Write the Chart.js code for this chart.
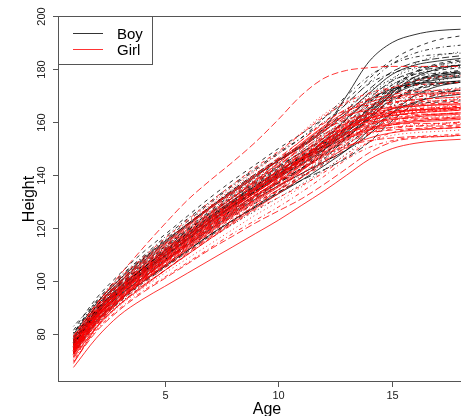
<!DOCTYPE html>
<html>
<head>
<meta charset="utf-8">
<script src="https://cdn.jsdelivr.net/npm/chart.js@4.4.1/dist/chart.umd.min.js"></script>
<style>
  html, body { margin: 0; padding: 0; background: #fff; overflow: hidden; }
  canvas { display: block; }
</style>
</head>
<body>
<canvas id="growth" width="476" height="416"></canvas>
<script>
const ages = [1, 2, 3, 4, 5, 6, 7, 8, 9, 10, 11, 12, 13, 14, 15, 16, 17, 18]

const seriesNames = ['Boy', 'Girl']
const xTicks = [5, 10, 15]
const yTicks = [80, 100, 120, 140, 160, 180, 200]

// one row per boy, heights in cm
const boyHeights = [
    [80, 91.5, 100.5, 108, 115, 121.5, 128, 134, 140, 145.5, 151, 157.5, 170, 183, 190, 193, 194.5, 195],
    [81.5, 93.5, 102.5, 110.5, 117.5, 124.5, 131.5, 138, 144, 150, 155.5, 161.5, 168.5, 176.5, 183.5, 188, 191, 192.5],
    [79.5, 91.5, 100.5, 108, 115, 121.5, 128, 134.5, 140.5, 146, 151, 155.5, 160, 167, 176, 182, 185, 186.5],
    [80.5, 92, 101, 108.5, 115.5, 122.5, 129.5, 136, 142, 148, 154, 161.5, 170, 177.5, 182, 184.5, 185.5, 186],
    [78.5, 90.5, 99.5, 107.5, 114.5, 121.5, 128, 134.5, 140.5, 146, 151.5, 157.5, 164.5, 172.5, 179, 182.5, 184, 185],
    [79, 90.5, 99.5, 107, 114, 121, 127.5, 133.5, 139.5, 145.5, 150.5, 156.5, 163.5, 171, 178, 181.5, 183, 184],
    [77.5, 89.5, 98.5, 106, 113, 119.5, 126, 132, 138, 143.5, 148.5, 153, 158, 165, 173, 179, 182, 183.5],
    [78, 90, 99, 106, 113, 119.5, 126, 132.5, 138.5, 144, 149.5, 155, 162, 170, 176.5, 180, 181.5, 182.5],
    [78.5, 90, 99, 106.5, 113, 120, 126.5, 133, 139, 145, 151, 158.5, 167, 174.5, 178.5, 180.5, 181, 181.5],
    [77, 89, 98, 105.5, 112, 119, 125.5, 131.5, 137.5, 143, 148.5, 154, 161, 169, 175.5, 179, 180.5, 181.5],
    [76.5, 88.5, 97.5, 104.5, 111.5, 118, 124.5, 130.5, 136, 141.5, 146.5, 151, 155.5, 162, 171, 177, 180, 181.5],
    [77.5, 89, 97.5, 104.5, 111.5, 118, 124.5, 130.5, 136.5, 142, 147, 152.5, 159.5, 167.5, 174, 178, 179.5, 180.5],
    [76.5, 88.5, 97.5, 105, 111.5, 118.5, 125, 131, 137, 143, 149, 156, 165, 172, 176, 178, 178.5, 179],
    [76, 88, 97, 104.5, 111, 117.5, 124, 130, 136, 141.5, 146.5, 152, 158.5, 166.5, 173, 177, 178.5, 179.5],
    [77, 88.5, 97, 104, 110.5, 117, 123.5, 129.5, 135, 140.5, 145.5, 150, 154.5, 161, 169.5, 175.5, 178, 179],
    [76.5, 88, 96.5, 103.5, 110.5, 117, 123.5, 129.5, 135, 140.5, 145.5, 151, 157.5, 165, 171.5, 175.5, 177.5, 178.5],
    [75.5, 87.5, 96.5, 103.5, 110, 116.5, 123, 129, 134.5, 140, 145, 150.5, 157, 164.5, 171, 175, 177, 178],
    [77, 88.5, 97, 104, 110.5, 117, 123.5, 129.5, 135.5, 141, 147, 154, 163, 170.5, 174.5, 176.5, 177, 177.5],
    [76, 87.5, 96, 103, 109.5, 116, 122.5, 128.5, 134, 139.5, 144, 148.5, 153, 159, 167, 173.5, 177, 178.5],
    [76.5, 87.5, 96, 103, 109.5, 116, 122.5, 128.5, 134, 139.5, 144.5, 150, 156.5, 164, 170.5, 174.5, 176.5, 177.5],
    [75, 86.5, 95.5, 102.5, 109, 115.5, 122, 128, 133.5, 139, 144, 149.5, 156, 163.5, 170, 174, 176, 177],
    [76, 87.5, 96, 103, 109.5, 116, 122.5, 128.5, 134, 139.5, 145.5, 152.5, 161, 168, 172, 174, 174.5, 175],
    [75.5, 87, 95.5, 102.5, 108.5, 115, 121, 127, 132.5, 138, 142.5, 147, 151.5, 157.5, 165.5, 172, 175.5, 177],
    [76, 87, 95, 102, 108, 114.5, 121, 127, 132.5, 137.5, 142.5, 148, 154.5, 162, 168.5, 172.5, 174.5, 175.5],
    [74.5, 86, 94.5, 101.5, 108, 114, 120.5, 126.5, 132, 137, 142, 147.5, 154, 161.5, 168, 172, 174, 175],
    [75, 86.5, 94.5, 101, 107.5, 113.5, 119.5, 125.5, 131, 136, 140.5, 145, 149.5, 155.5, 163.5, 170, 173.5, 175],
    [74, 85.5, 94, 101, 107.5, 114, 120, 126, 131.5, 137, 142.5, 149.5, 158, 165, 169, 171, 171.5, 172],
    [75, 85.5, 93.5, 100.5, 107, 113, 119.5, 125, 130.5, 135.5, 140.5, 146, 152, 159.5, 166, 170, 172, 173],
    [73.5, 85, 93, 100, 106, 112.5, 118.5, 124.5, 129.5, 134.5, 139.5, 144.5, 151, 158.5, 165, 169, 171, 172],
    [74, 85, 93, 99.5, 105.5, 111.5, 117.5, 123, 128.5, 133.5, 138, 142, 146.5, 152.5, 160.5, 167, 170.5, 172],
    [73, 84.5, 92.5, 99.5, 105.5, 111.5, 117.5, 123, 128, 133, 138, 143.5, 149.5, 157, 163.5, 167.5, 169.5, 170.5],
    [72.5, 84, 92, 99, 105, 111, 117, 122.5, 128, 133.5, 139, 146, 154, 161, 165, 167, 167.5, 168],
    [72.5, 83.5, 91.5, 98, 104, 110, 116, 121.5, 126.5, 131.5, 136.5, 142, 148, 155.5, 162, 166, 168, 169],
    [80.5, 92.5, 101.5, 109, 116.5, 123.5, 130, 136.5, 142.5, 148.5, 154, 160, 167, 175, 182, 186, 188, 189],
    [78, 89, 97.5, 104.5, 111, 117.5, 124, 130, 135.5, 141, 146, 151.5, 158, 165.5, 172, 176, 178, 179],
    [76, 87.5, 96, 103, 109.5, 116, 122.5, 128.5, 134.5, 140, 146, 153, 161.5, 168.5, 172.5, 174.5, 175, 175.5],
    [78, 89.5, 98.5, 105.5, 112.5, 119, 125.5, 131.5, 137, 142.5, 147.5, 152, 156.5, 163, 172, 178.5, 181.5, 183],
    [73.5, 86, 95, 103, 110, 117, 124, 130, 136, 141.5, 147, 152.5, 159.5, 167.5, 174, 178, 180, 181],
    [83, 92, 98.5, 104, 109.5, 115.5, 121.5, 127, 132.5, 137.5, 142.5, 148, 154.5, 162, 168.5, 172.5, 174.5, 175.5]
]

// one row per girl
const girlHeights = [
    [79, 91, 102, 112, 121.5, 130.5, 138, 145, 152.5, 161, 170, 176.5, 179.5, 180.5, 181, 181, 181, 181],
    [67.5, 78.5, 87, 93, 98, 103, 108, 113, 118, 123, 128.5, 134, 140, 146, 150, 152, 153, 153.5],
    [79.5, 91.5, 101, 108.5, 116, 123, 130, 136.5, 143, 149, 155.5, 162, 167.5, 171, 173, 174, 174.5, 175],
    [78.5, 91, 100.5, 108, 115, 122, 129, 135.5, 142, 148.5, 156, 163, 168, 170.5, 171.5, 172, 172, 172],
    [79, 90.5, 100, 107.5, 114.5, 121.5, 128, 134, 140, 145.5, 151, 157, 163.5, 169, 173, 175.5, 177, 177.5],
    [78, 90, 99.5, 107, 114, 121, 128, 134, 140.5, 146.5, 153, 159.5, 165, 168.5, 170.5, 171.5, 172, 172.5],
    [77.5, 89.5, 99, 106.5, 113.5, 120.5, 127.5, 133.5, 139.5, 145.5, 152, 158.5, 164, 167.5, 169.5, 170.5, 171, 171],
    [78, 89.5, 98.5, 106, 113, 120, 127, 133, 139.5, 146, 153, 160, 164.5, 166.5, 167.5, 168, 168, 168.5],
    [76.5, 88.5, 98, 105.5, 112.5, 119.5, 126, 132, 138, 143, 148, 154, 160.5, 165.5, 168.5, 170, 170.5, 171],
    [77, 89, 98, 105.5, 112.5, 119.5, 126, 132.5, 138.5, 144.5, 151, 157.5, 163, 166.5, 168.5, 169.5, 170, 170.5],
    [76, 88.5, 97.5, 105, 112, 118.5, 125.5, 131.5, 137.5, 143.5, 150, 156.5, 162, 165.5, 167.5, 168.5, 169, 169.5],
    [77, 88.5, 97.5, 105, 111.5, 118.5, 125, 131.5, 138, 144.5, 151.5, 158, 162.5, 164.5, 165.5, 166, 166.5, 166.5],
    [75.5, 87.5, 97, 104.5, 111, 118, 124.5, 130.5, 136.5, 141.5, 146.5, 152.5, 159, 164, 167, 168.5, 169, 169.5],
    [76.5, 88, 97, 104, 111, 118, 124.5, 130.5, 136.5, 142.5, 148.5, 155, 160.5, 164, 166, 167, 167.5, 168],
    [75, 87.5, 96.5, 104, 110.5, 117.5, 124, 130, 136, 142, 148, 154.5, 160, 163.5, 165.5, 166.5, 167, 167.5],
    [76, 88, 97, 104, 111, 117.5, 124, 130.5, 137, 143.5, 150.5, 157, 161, 163, 164, 164.5, 164.5, 165],
    [74.5, 87, 96.5, 103.5, 110.5, 117, 123.5, 129.5, 135.5, 141.5, 147.5, 154, 159.5, 163, 165, 166, 166.5, 167],
    [75.5, 87.5, 96.5, 103.5, 110, 116.5, 123, 129, 135, 140, 145, 150.5, 157, 162, 165, 166.5, 167, 167.5],
    [76, 87.5, 96, 103, 110, 116.5, 123, 129, 135, 141, 147, 153.5, 159, 162.5, 164.5, 165.5, 166, 166.5],
    [73.5, 86, 95.5, 103, 110, 116.5, 123, 129, 135, 140.5, 146.5, 153, 158.5, 162, 164, 165, 165.5, 166],
    [75.5, 87, 96, 103, 109.5, 116, 122.5, 129, 135.5, 142, 149, 155.5, 159.5, 161.5, 162.5, 163, 163, 163.5],
    [74.5, 86.5, 95.5, 102.5, 109.5, 116, 122.5, 128.5, 134.5, 140, 146, 152.5, 158, 161.5, 163.5, 164.5, 165, 165.5],
    [74, 86, 95, 102.5, 109, 115.5, 122, 128, 133.5, 138.5, 143.5, 149, 155, 160, 163, 164.5, 165, 165.5],
    [75, 86.5, 95.5, 102.5, 109, 115.5, 122, 128, 134, 139.5, 145.5, 152, 157.5, 161, 163, 164, 164.5, 165],
    [73, 85.5, 95, 102, 109, 115.5, 122, 128, 133.5, 139, 145, 151.5, 157, 160.5, 162.5, 163.5, 164, 164.5],
    [74.5, 86, 95, 102, 108.5, 115, 121.5, 128, 134.5, 141, 148, 154.5, 158, 160, 161, 161.5, 161.5, 162],
    [74, 86, 95, 102, 108.5, 115, 121.5, 127.5, 133.5, 139, 145, 151.5, 157, 160.5, 162.5, 163.5, 164, 164.5],
    [75, 86.5, 95, 102, 108.5, 114.5, 121, 127, 132.5, 137.5, 142, 147, 153, 158.5, 162, 163.5, 164.5, 165],
    [72.5, 84.5, 94, 101.5, 108, 114.5, 121, 127.5, 133.5, 139.5, 145.5, 152, 157.5, 161, 163, 164, 164.5, 165],
    [74.5, 85.5, 94.5, 101.5, 108, 114.5, 121, 127, 132.5, 138, 144, 150.5, 156, 159.5, 161.5, 162.5, 163, 163.5],
    [73.5, 85, 94, 101, 107.5, 114, 120.5, 126.5, 133, 139.5, 146.5, 152.5, 156, 158, 159, 159.5, 159.5, 160],
    [75.5, 86, 94, 101, 107.5, 113.5, 120, 126, 132, 137.5, 143.5, 150, 155.5, 159, 161, 162, 162.5, 163],
    [73, 85, 93.5, 100.5, 107, 113.5, 119.5, 125.5, 131, 136, 140.5, 145.5, 151.5, 157, 160.5, 162, 163, 163.5],
    [74, 85, 93.5, 100.5, 107, 113.5, 120, 126, 131.5, 137, 143, 149.5, 155, 158.5, 160.5, 161.5, 162, 162.5],
    [72, 84, 93, 100.5, 107, 113, 119.5, 125.5, 131, 136.5, 142.5, 149, 154.5, 158, 160, 161, 161.5, 162],
    [73, 84.5, 93, 100, 106.5, 113, 119, 125, 131, 137.5, 144.5, 150.5, 154, 156, 157, 157.5, 157.5, 158],
    [73.5, 84.5, 93, 100, 106, 112.5, 119, 125, 130.5, 136, 142, 148.5, 154, 157.5, 159.5, 160.5, 161, 161.5],
    [72.5, 84, 92.5, 99.5, 105.5, 112, 118, 124, 129.5, 134.5, 139, 144, 150, 155.5, 159, 160.5, 161, 161.5],
    [71.5, 83.5, 92, 99, 105.5, 111.5, 118, 123.5, 129, 134.5, 140.5, 147, 152.5, 156, 158, 159, 159.5, 160],
    [73, 83.5, 92, 98.5, 105, 111, 117, 123, 128.5, 134, 140, 146.5, 152, 155.5, 157.5, 158.5, 159, 159.5],
    [71, 82.5, 91, 98, 104, 110.5, 116.5, 122.5, 128.5, 134.5, 141.5, 147.5, 151, 153, 154, 154.5, 154.5, 155],
    [71.5, 82.5, 91, 97.5, 104, 110, 116, 122, 127.5, 133, 139, 145, 150.5, 154, 156, 157, 157.5, 158],
    [72, 83, 91, 98, 104, 110, 116, 121.5, 127, 131.5, 136, 141, 147, 152.5, 156, 157.5, 158, 158.5],
    [70.5, 82, 90.5, 97, 103, 108.5, 114, 119.5, 125, 130, 135.5, 141.5, 148, 152.5, 155, 156, 156.5, 157],
    [70, 81.5, 89.5, 96, 101.5, 107, 112.5, 118, 123, 128, 133.5, 139.5, 146, 150.5, 153, 154.5, 155, 155.5],
    [69.5, 81, 89, 95.5, 101, 106.5, 112, 117, 122, 126.5, 131, 136.5, 142.5, 148.5, 152.5, 154, 154.5, 155],
    [69, 82.5, 92.5, 100.5, 107.5, 114.5, 121, 127.5, 133.5, 139.5, 146, 152.5, 158, 161.5, 163.5, 164.5, 165, 165.5],
    [77, 87, 95, 101.5, 108, 114, 120.5, 126.5, 132.5, 138, 144, 150.5, 156, 159.5, 161.5, 162.5, 163, 163.5],
    [76.5, 88.5, 97.5, 105, 112, 119, 125.5, 132, 138, 144, 150, 156.5, 162.5, 166.5, 169, 170, 170.5, 171],
    [75, 87, 96.5, 104, 110.5, 117, 123.5, 129.5, 135, 140.5, 145.5, 151, 157.5, 163, 166, 167.5, 168, 168.5],
    [74, 85, 93.5, 100.5, 107, 113.5, 120, 126, 132, 138.5, 145.5, 151.5, 155, 157, 158, 158.5, 158.5, 159],
    [72.5, 84, 92.5, 99.5, 106, 112, 118.5, 124.5, 130, 135.5, 141.5, 148, 153.5, 157, 159, 160, 160.5, 161],
    [74, 86.5, 96, 103, 110, 116.5, 123, 129, 135, 140.5, 146.5, 153, 158.5, 162, 164, 165, 165.5, 166],
    [79, 90.5, 100, 107.5, 114.5, 121.5, 128.5, 135, 141.5, 148, 155.5, 162.5, 167, 169, 170, 170.5, 170.5, 171]
]

const boyColor = '#000000'
const girlColor = '#ff0000'
// R style lty 1:5 -> solid, dashed, dotted, dotdash, longdash
const dashes = [[], [4, 4], [1, 3], [1, 3, 4, 3], [7, 3]]

let datasets = []
boyHeights.forEach((row, i) => {
    datasets.push({
        label: seriesNames[0],
        data: row.map((h, k) => ({ x: ages[k], y: h })),
        borderColor: boyColor,
        borderDash: dashes[i % 5],
        order: 1
    })
})
girlHeights.forEach((row, i) => {
    datasets.push({
        label: seriesNames[1],
        data: row.map((h, k) => ({ x: ages[k], y: h })),
        borderColor: girlColor,
        borderDash: dashes[(i + boyHeights.length) % 5],
        order: 0
    })
})

const fontFam = '"Liberation Sans", Arial, sans-serif'

// box, ticks, titles and legend drawn R style
const frame = {
    id: 'frame',
    afterDraw(chart) {
        const { ctx, chartArea: a, scales: { x, y } } = chart
        ctx.save()
        ctx.strokeStyle = '#555'
        ctx.lineWidth = 1
        ctx.strokeRect(a.left + 0.5, a.top + 0.5, a.right - a.left, a.bottom - a.top - 1)

        ctx.fillStyle = '#222'
        ctx.font = '11px ' + fontFam
        ctx.textAlign = 'center'
        ctx.textBaseline = 'middle'
        yTicks.forEach(v => {
            const py = Math.round(y.getPixelForValue(v)) + 0.5
            ctx.beginPath()
            ctx.moveTo(a.left - 5, py)
            ctx.lineTo(a.left, py)
            ctx.stroke()
            ctx.save()
            ctx.translate(42, py)
            ctx.rotate(-Math.PI / 2)
            ctx.fillText(String(v), 0, 0)
            ctx.restore()
        })
        xTicks.forEach(v => {
            const px = Math.round(x.getPixelForValue(v)) + 0.5
            ctx.beginPath()
            ctx.moveTo(px, a.bottom)
            ctx.lineTo(px, a.bottom + 5)
            ctx.stroke()
            ctx.fillText(String(v), px, 396)
        })

        ctx.fillStyle = '#000'
        ctx.font = '16px ' + fontFam
        ctx.textBaseline = 'alphabetic'
        ctx.fillText('Age', (a.left + a.right) / 2, 414)
        ctx.save()
        ctx.translate(34, (a.top + a.bottom) / 2)
        ctx.rotate(-Math.PI / 2)
        ctx.fillText('Height', 0, 0)
        ctx.restore()

        // legend
        ctx.fillStyle = '#fff'
        ctx.fillRect(a.left + 1, a.top + 1, 93, 47)
        ctx.strokeStyle = '#555'
        ctx.strokeRect(a.left + 0.5, a.top + 0.5, 94, 48)
        const items = [[seriesNames[0], boyColor, 33.5], [seriesNames[1], girlColor, 49.5]]
        ctx.font = '15px ' + fontFam
        ctx.textAlign = 'left'
        ctx.textBaseline = 'middle'
        ctx.lineWidth = 0.8
        items.forEach(([txt, col, ly]) => {
            ctx.strokeStyle = col
            ctx.beginPath()
            ctx.moveTo(73, ly)
            ctx.lineTo(103, ly)
            ctx.stroke()
            ctx.fillStyle = '#000'
            ctx.fillText(txt, 117, ly + 1)
        })
        ctx.restore()
    }
}

new Chart(document.getElementById('growth'), {
    type: 'line',
    data: { datasets: datasets },
    options: {
        responsive: false,
        animation: false,
        layout: { padding: { left: 58, top: 16, right: 0, bottom: 34 } },
        elements: {
            line: { borderWidth: 0.8, cubicInterpolationMode: 'monotone', fill: false },
            point: { radius: 0 }
        },
        scales: {
            x: { type: 'linear', min: 0.32, max: 18.68, display: false },
            y: { min: 62, max: 200, display: false }
        },
        plugins: {
            legend: { display: false },
            tooltip: { enabled: false }
        }
    },
    plugins: [frame]
})
</script>
</body>
</html>
